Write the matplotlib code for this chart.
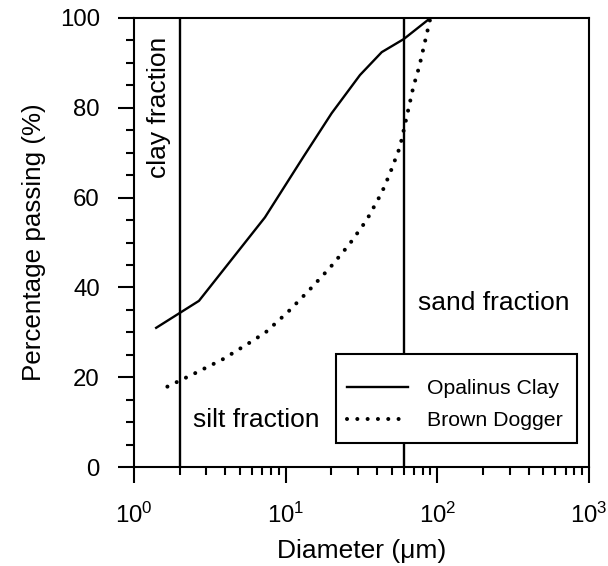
import matplotlib
matplotlib.use("Agg")
import matplotlib.pyplot as plt
from matplotlib.patches import Rectangle
from matplotlib.ticker import LogLocator, MultipleLocator, NullFormatter

plt.rcParams['font.family'] = ['Liberation Sans', 'DejaVu Sans']
plt.rcParams['mathtext.fontset'] = 'custom'
plt.rcParams['mathtext.rm'] = 'Liberation Sans'
plt.rcParams['mathtext.it'] = 'Liberation Sans'

# Grain-size distribution curves (diameter in micrometres, % passing)
opalinus_d = [1.4, 2.68, 7.3, 13.1, 20.1, 30.9, 43.0, 60.0, 90.0]
opalinus_p = [31.0, 37.0, 55.6, 69.1, 78.8, 87.3, 92.4, 95.3, 100.0]

dogger_d = [1.66, 2.53, 3.85, 5.67, 7.38, 10.4, 14.3, 19.6, 26.3, 34.2,
            43.0, 48.7, 56.7, 62.8, 69.5, 76.0, 90.0]
dogger_p = [17.9, 20.9, 24.0, 27.5, 30.0, 34.6, 39.4, 44.4, 49.6, 55.0,
            61.1, 65.4, 71.3, 78.0, 84.7, 89.2, 100.0]

# Fraction boundaries (micrometres)
clay_silt = 2
silt_sand = 60

fig = plt.figure(figsize=(6.08, 5.66), dpi=100)
ax = fig.add_axes([0.2204, 0.1749, 0.7484, 0.7933])

ax.plot(opalinus_d, opalinus_p, color='black', lw=1.7, label='Opalinus Clay',
        zorder=3)
ax.plot(dogger_d, dogger_p, color='black', lw=2.9, linestyle=(0, (0.01, 2.55)),
        dash_capstyle='round', label='Brown Dogger', zorder=3)

ax.axvline(clay_silt, color='black', lw=1.7, zorder=1)
ax.axvline(silt_sand, color='black', lw=1.7, zorder=1)

ax.set_xscale('log')
ax.set_xlim(1, 1000)
ax.set_ylim(0, 100)

ax.xaxis.set_major_locator(LogLocator(base=10, numticks=10))
ax.xaxis.set_minor_locator(LogLocator(base=10, subs=range(2, 10), numticks=20))
ax.xaxis.set_minor_formatter(NullFormatter())
ax.yaxis.set_major_locator(MultipleLocator(20))
ax.yaxis.set_minor_locator(MultipleLocator(5))

ax.tick_params(which='major', direction='out', length=11.5, width=1.5,
               labelsize=17.3, top=False, right=False)
ax.tick_params(which='minor', direction='out', length=6, width=1.5,
               top=False, right=False)
ax.tick_params(axis='y', which='major', pad=13)
ax.tick_params(axis='x', which='major', pad=14)

for sp in ax.spines.values():
    sp.set_linewidth(1.5)
    sp.set_zorder(12)

ax.set_xlabel('Diameter (μm)', fontsize=19, labelpad=8)
ax.set_ylabel('Percentage passing (%)', fontsize=18.7, labelpad=10)

ax.text(1.46, 80, 'clay fraction', rotation=90, ha='center', va='center', fontsize=19)
ax.text(6.37, 10.5, 'silt fraction', ha='center', va='center', fontsize=19)
ax.text(236, 36.5, 'sand fraction', ha='center', va='center', fontsize=19)

# Legend box with opaque white fill, drawn over the boundary line
box = Rectangle((0.4433, 0.0541), 0.5297, 0.1969, transform=ax.transAxes,
                facecolor='white', edgecolor='black', lw=1.5, fill=True,
                zorder=10)
ax.add_artist(box)

leg = ax.legend(loc='center left', bbox_to_anchor=(0.4675, 0.1385),
                borderaxespad=0, borderpad=0, frameon=False, fontsize=15.3,
                handlelength=2.9, handletextpad=0.88, labelspacing=0.61)
leg.set_zorder(11)

fig.savefig('out.png', dpi=100)
